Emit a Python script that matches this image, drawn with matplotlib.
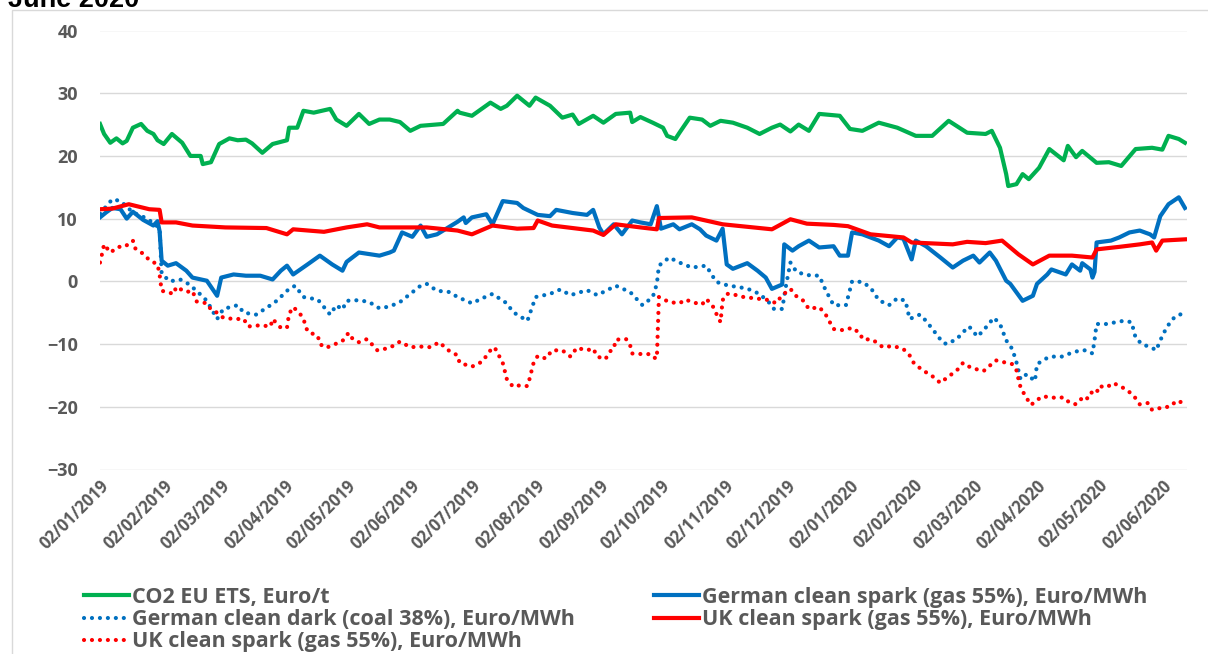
import pandas as pd
import matplotlib.pyplot as plt
import matplotlib.dates as mdates
from matplotlib.patches import Rectangle

# CO2 EU ETS, Euro/t
co2_dates = ["2019-01-02", "2019-01-04", "2019-01-07", "2019-01-10", "2019-01-13", "2019-01-15",
             "2019-01-18", "2019-01-22", "2019-01-25", "2019-01-28", "2019-01-30", "2019-02-02",
             "2019-02-06", "2019-02-11", "2019-02-15", "2019-02-20", "2019-02-21", "2019-02-25",
             "2019-03-01", "2019-03-06", "2019-03-10", "2019-03-14", "2019-03-17", "2019-03-22",
             "2019-03-27", "2019-04-03", "2019-04-04", "2019-04-08", "2019-04-11", "2019-04-16",
             "2019-04-24", "2019-04-27", "2019-05-02", "2019-05-08", "2019-05-13", "2019-05-18",
             "2019-05-23", "2019-05-28", "2019-06-02", "2019-06-07", "2019-06-18", "2019-06-25",
             "2019-06-26", "2019-07-02", "2019-07-11", "2019-07-16", "2019-07-19", "2019-07-24",
             "2019-07-30", "2019-08-02", "2019-08-09", "2019-08-15", "2019-08-20", "2019-08-23",
             "2019-08-30", "2019-09-04", "2019-09-10", "2019-09-17", "2019-09-18", "2019-09-22",
             "2019-09-28", "2019-10-03", "2019-10-05", "2019-10-09", "2019-10-11", "2019-10-16",
             "2019-10-22", "2019-10-26", "2019-10-31", "2019-11-06", "2019-11-13", "2019-11-19",
             "2019-11-25", "2019-11-29", "2019-12-04", "2019-12-08", "2019-12-13", "2019-12-18",
             "2019-12-28", "2020-01-02", "2020-01-08", "2020-01-16", "2020-01-25", "2020-02-03",
             "2020-02-11", "2020-02-19", "2020-02-28", "2020-03-08", "2020-03-11", "2020-03-15",
             "2020-03-18", "2020-03-19", "2020-03-23", "2020-03-26", "2020-03-29", "2020-04-03",
             "2020-04-08", "2020-04-15", "2020-04-17", "2020-04-21", "2020-04-24", "2020-05-01",
             "2020-05-07", "2020-05-13", "2020-05-20", "2020-05-28", "2020-06-02", "2020-06-05",
             "2020-06-10", "2020-06-13"]
co2_vals = [25.1, 23.5, 22.1, 22.8, 22.0, 22.4,
            24.5, 25.1, 24.0, 23.5, 22.5, 21.9,
            23.5, 22.1, 20.0, 20.0, 18.7, 19.0,
            21.9, 22.8, 22.5, 22.6, 22.0, 20.5,
            21.9, 22.5, 24.5, 24.5, 27.2, 26.9,
            27.5, 25.8, 24.8, 26.7, 25.1, 25.8,
            25.8, 25.4, 24.0, 24.8, 25.1, 27.2,
            26.9, 26.4, 28.5, 27.5, 28.0, 29.6,
            28.0, 29.3, 28.0, 26.1, 26.6, 25.1,
            26.4, 25.3, 26.7, 26.9, 25.4, 26.2,
            25.3, 24.5, 23.2, 22.7, 23.7, 26.1,
            25.8, 24.8, 25.6, 25.3, 24.5, 23.5,
            24.5, 25.0, 23.9, 25.0, 24.0, 26.7,
            26.4, 24.3, 24.0, 25.3, 24.5, 23.2,
            23.2, 25.6, 23.7, 23.5, 24.0, 21.3,
            17.1, 15.2, 15.5, 17.1, 16.3, 18.1,
            21.1, 19.3, 21.6, 19.8, 20.8, 18.9,
            19.0, 18.4, 21.1, 21.3, 21.0, 23.2,
            22.7, 22.1]

# German clean spark (gas 55%), Euro/MWh
de_spark_dates = ["2019-01-02", "2019-01-05", "2019-01-08", "2019-01-12", "2019-01-15", "2019-01-18",
                  "2019-01-23", "2019-01-28", "2019-01-30", "2019-01-31", "2019-02-01", "2019-02-04",
                  "2019-02-08", "2019-02-13", "2019-02-16", "2019-02-23", "2019-02-28", "2019-03-02",
                  "2019-03-08", "2019-03-14", "2019-03-21", "2019-03-27", "2019-03-31", "2019-04-03",
                  "2019-04-06", "2019-04-13", "2019-04-19", "2019-04-25", "2019-04-30", "2019-05-02",
                  "2019-05-08", "2019-05-18", "2019-05-23", "2019-05-25", "2019-05-29", "2019-06-03",
                  "2019-06-07", "2019-06-10", "2019-06-15", "2019-06-20", "2019-06-25", "2019-06-28",
                  "2019-06-29", "2019-07-02", "2019-07-09", "2019-07-12", "2019-07-17", "2019-07-24",
                  "2019-07-27", "2019-08-03", "2019-08-09", "2019-08-12", "2019-08-20", "2019-08-27",
                  "2019-08-30", "2019-09-02", "2019-09-04", "2019-09-09", "2019-09-13", "2019-09-18",
                  "2019-09-22", "2019-09-27", "2019-09-30", "2019-10-02", "2019-10-08", "2019-10-11",
                  "2019-10-17", "2019-10-21", "2019-10-24", "2019-10-29", "2019-11-01", "2019-11-03",
                  "2019-11-06", "2019-11-13", "2019-11-18", "2019-11-22", "2019-11-25", "2019-11-30",
                  "2019-12-01", "2019-12-05", "2019-12-08", "2019-12-13", "2019-12-18", "2019-12-25",
                  "2019-12-28", "2020-01-01", "2020-01-03", "2020-01-08", "2020-01-16", "2020-01-21",
                  "2020-01-25", "2020-01-28", "2020-02-01", "2020-02-03", "2020-02-08", "2020-02-15",
                  "2020-02-21", "2020-02-26", "2020-03-02", "2020-03-05", "2020-03-10", "2020-03-13",
                  "2020-03-18", "2020-03-20", "2020-03-26", "2020-03-31", "2020-04-02", "2020-04-07",
                  "2020-04-09", "2020-04-16", "2020-04-19", "2020-04-23", "2020-04-24", "2020-04-28",
                  "2020-04-29", "2020-04-30", "2020-05-01", "2020-05-08", "2020-05-12", "2020-05-17",
                  "2020-05-22", "2020-05-27", "2020-05-29", "2020-06-01", "2020-06-05", "2020-06-10",
                  "2020-06-13"]
de_spark_vals = [10.2, 11.0, 11.7, 11.5, 10.0, 11.1,
                 9.8, 8.9, 9.6, 8.0, 3.3, 2.5,
                 2.9, 1.7, 0.6, 0.1, -2.3, 0.6,
                 1.1, 0.9, 0.9, 0.3, 1.7, 2.5,
                 1.1, 2.7, 4.1, 2.7, 1.7, 3.1,
                 4.6, 4.1, 4.6, 4.9, 7.8, 7.1,
                 8.9, 7.1, 7.5, 8.5, 9.5, 10.2,
                 9.3, 10.2, 10.7, 9.1, 12.8, 12.5,
                 11.7, 10.6, 10.4, 11.4, 10.9, 10.6,
                 11.4, 8.6, 7.5, 9.1, 7.5, 9.7,
                 9.4, 9.1, 12.0, 8.4, 9.1, 8.3,
                 9.1, 8.3, 7.3, 6.5, 8.4, 2.7,
                 2.0, 2.9, 1.7, 0.6, -1.2, -0.5,
                 5.9, 4.9, 5.6, 6.5, 5.4, 5.6,
                 4.1, 4.1, 7.8, 7.5, 6.5, 5.6,
                 7.0, 6.8, 3.5, 6.5, 5.6, 3.8,
                 2.2, 3.3, 4.1, 3.0, 4.6, 3.3,
                 0.1, -0.4, -3.1, -2.3, -0.4, 1.1,
                 1.9, 1.1, 2.7, 1.7, 2.9, 1.9,
                 0.6, 1.5, 6.2, 6.5, 7.0, 7.8,
                 8.1, 7.5, 7.0, 10.4, 12.3, 13.4,
                 11.7]

# German clean dark (coal 38%), Euro/MWh
de_dark_dates = ["2019-01-02", "2019-01-08", "2019-01-12", "2019-01-18", "2019-01-25", "2019-01-31",
                 "2019-02-01", "2019-02-05", "2019-02-10", "2019-02-14", "2019-02-18", "2019-02-23",
                 "2019-02-28", "2019-03-03", "2019-03-10", "2019-03-13", "2019-03-19", "2019-03-26",
                 "2019-03-29", "2019-04-04", "2019-04-07", "2019-04-11", "2019-04-18", "2019-04-24",
                 "2019-04-27", "2019-04-30", "2019-05-02", "2019-05-08", "2019-05-13", "2019-05-18",
                 "2019-05-23", "2019-05-28", "2019-06-02", "2019-06-07", "2019-06-10", "2019-06-15",
                 "2019-06-21", "2019-06-25", "2019-07-02", "2019-07-07", "2019-07-12", "2019-07-19",
                 "2019-07-22", "2019-07-29", "2019-08-02", "2019-08-09", "2019-08-14", "2019-08-19",
                 "2019-08-27", "2019-09-01", "2019-09-10", "2019-09-17", "2019-09-23", "2019-09-28",
                 "2019-09-30", "2019-10-01", "2019-10-06", "2019-10-11", "2019-10-17", "2019-10-24",
                 "2019-10-27", "2019-10-29", "2019-11-04", "2019-11-09", "2019-11-14", "2019-11-19",
                 "2019-11-24", "2019-11-26", "2019-11-30", "2019-12-02", "2019-12-04", "2019-12-07",
                 "2019-12-12", "2019-12-18", "2019-12-21", "2019-12-25", "2019-12-31", "2020-01-02",
                 "2020-01-03", "2020-01-08", "2020-01-12", "2020-01-16", "2020-01-21", "2020-01-25",
                 "2020-01-29", "2020-01-31", "2020-02-05", "2020-02-08", "2020-02-13", "2020-02-16",
                 "2020-02-18", "2020-02-23", "2020-02-26", "2020-02-29", "2020-03-04", "2020-03-07",
                 "2020-03-12", "2020-03-15", "2020-03-18", "2020-03-21", "2020-03-23", "2020-03-25",
                 "2020-03-28", "2020-04-01", "2020-04-02", "2020-04-07", "2020-04-09", "2020-04-14",
                 "2020-04-18", "2020-04-23", "2020-04-26", "2020-04-29", "2020-04-30", "2020-05-01",
                 "2020-05-06", "2020-05-09", "2020-05-14", "2020-05-18", "2020-05-20", "2020-05-23",
                 "2020-05-28", "2020-05-30", "2020-06-01", "2020-06-04", "2020-06-07", "2020-06-10",
                 "2020-06-13"]
de_dark_vals = [10.8, 13.1, 12.8, 11.0, 10.0, 8.5,
                1.2, 0.0, 0.3, -0.4, -1.5, -3.1,
                -6.0, -4.4, -3.8, -5.0, -5.3, -3.8,
                -3.1, -1.2, -0.7, -2.5, -2.9, -5.3,
                -3.8, -4.5, -3.1, -3.0, -3.3, -4.3,
                -4.0, -3.3, -2.0, -0.7, -0.4, -1.5,
                -1.7, -2.5, -3.5, -2.7, -2.0, -3.5,
                -4.9, -6.3, -2.5, -2.0, -1.3, -2.2,
                -1.4, -2.2, -0.7, -1.7, -3.8, -2.5,
                -0.4, 2.5, 3.8, 3.0, 2.2, 2.5,
                0.9, -0.1, -0.7, -0.9, -1.3, -2.0,
                -3.5, -4.4, -4.4, -0.4, 3.0, 1.5,
                1.0, 0.9, -1.3, -3.8, -3.8, -1.3,
                0.0, -0.1, -1.0, -3.0, -3.8, -2.7,
                -3.1, -6.0, -5.3, -6.3, -8.4, -9.7,
                -10.0, -9.2, -8.1, -7.2, -8.8, -7.8,
                -5.8, -6.8, -9.4, -10.8, -12.9, -15.6,
                -14.8, -15.9, -13.2, -12.2, -12.0, -12.0,
                -11.5, -11.0, -11.0, -11.5, -9.4, -6.8,
                -6.8, -6.6, -6.3, -6.5, -9.0, -10.0,
                -10.6, -11.0, -9.4, -7.4, -6.0, -5.3,
                -5.2]

# UK clean spark (gas 55%), Euro/MWh - solid
uk_spark_dates = ["2019-01-02", "2019-01-08", "2019-01-16", "2019-01-21", "2019-01-26", "2019-01-31",
                  "2019-02-01", "2019-02-08", "2019-02-16", "2019-03-04", "2019-03-24", "2019-04-03",
                  "2019-04-06", "2019-04-21", "2019-05-02", "2019-05-12", "2019-05-18", "2019-06-10",
                  "2019-06-25", "2019-07-02", "2019-07-12", "2019-07-24", "2019-08-01", "2019-08-03",
                  "2019-08-10", "2019-08-30", "2019-09-04", "2019-09-10", "2019-09-22", "2019-09-30",
                  "2019-10-01", "2019-10-17", "2019-11-01", "2019-11-25", "2019-12-04", "2019-12-12",
                  "2019-12-25", "2020-01-01", "2020-01-12", "2020-01-28", "2020-02-01", "2020-02-21",
                  "2020-02-28", "2020-03-08", "2020-03-16", "2020-03-24", "2020-03-31", "2020-04-08",
                  "2020-04-19", "2020-04-29", "2020-05-01", "2020-05-12", "2020-05-22", "2020-05-28",
                  "2020-05-30", "2020-06-02", "2020-06-13"]
uk_spark_vals = [11.5, 11.6, 12.3, 11.9, 11.5, 11.4,
                 9.4, 9.4, 8.9, 8.6, 8.5, 7.5,
                 8.3, 7.9, 8.6, 9.1, 8.6, 8.6,
                 8.1, 7.5, 8.9, 8.4, 8.5, 9.7,
                 8.9, 8.1, 7.4, 9.1, 8.6, 8.3,
                 10.1, 10.2, 9.1, 8.3, 9.9, 9.2,
                 9.0, 8.8, 7.5, 7.0, 6.2, 5.9,
                 6.3, 6.1, 6.5, 4.3, 2.7, 4.1,
                 4.1, 3.8, 5.1, 5.5, 5.9, 6.2,
                 4.9, 6.5, 6.7]

# UK clean spark (gas 55%), Euro/MWh - dotted
uk_dot_dates = ["2019-01-02", "2019-01-03", "2019-01-04", "2019-01-07", "2019-01-11", "2019-01-14",
                "2019-01-18", "2019-01-19", "2019-01-23", "2019-01-26", "2019-01-30", "2019-01-31",
                "2019-02-01", "2019-02-07", "2019-02-08", "2019-02-13", "2019-02-16", "2019-02-18",
                "2019-02-23", "2019-02-25", "2019-02-28", "2019-03-03", "2019-03-08", "2019-03-13",
                "2019-03-15", "2019-03-21", "2019-03-26", "2019-03-27", "2019-03-31", "2019-04-03",
                "2019-04-04", "2019-04-06", "2019-04-09", "2019-04-11", "2019-04-13", "2019-04-18",
                "2019-04-19", "2019-04-22", "2019-04-25", "2019-04-30", "2019-05-03", "2019-05-05",
                "2019-05-08", "2019-05-12", "2019-05-17", "2019-05-23", "2019-05-28", "2019-06-02",
                "2019-06-07", "2019-06-12", "2019-06-16", "2019-06-21", "2019-06-25", "2019-06-26",
                "2019-07-02", "2019-07-07", "2019-07-11", "2019-07-13", "2019-07-17", "2019-07-19",
                "2019-07-22", "2019-07-25", "2019-07-29", "2019-07-30", "2019-08-01", "2019-08-03",
                "2019-08-07", "2019-08-10", "2019-08-15", "2019-08-19", "2019-08-22", "2019-08-27",
                "2019-08-30", "2019-09-01", "2019-09-05", "2019-09-07", "2019-09-09", "2019-09-10",
                "2019-09-15", "2019-09-17", "2019-09-18", "2019-09-23", "2019-09-27", "2019-09-29",
                "2019-09-30", "2019-10-01", "2019-10-06", "2019-10-11", "2019-10-14", "2019-10-17",
                "2019-10-22", "2019-10-24", "2019-10-27", "2019-10-29", "2019-10-31", "2019-11-01",
                "2019-11-03", "2019-11-06", "2019-11-09", "2019-11-14", "2019-11-19", "2019-11-24",
                "2019-11-27", "2019-11-30", "2019-12-04", "2019-12-07", "2019-12-10", "2019-12-13",
                "2019-12-18", "2019-12-21", "2019-12-25", "2019-12-30", "2020-01-03", "2020-01-07",
                "2020-01-08", "2020-01-13", "2020-01-18", "2020-01-23", "2020-01-28", "2020-01-31",
                "2020-02-02", "2020-02-06", "2020-02-11", "2020-02-15", "2020-02-18", "2020-02-23",
                "2020-02-26", "2020-03-01", "2020-03-07", "2020-03-13", "2020-03-17", "2020-03-21",
                "2020-03-23", "2020-03-24", "2020-03-25", "2020-03-27", "2020-03-30", "2020-04-02",
                "2020-04-04", "2020-04-08", "2020-04-11", "2020-04-15", "2020-04-18", "2020-04-21",
                "2020-04-24", "2020-04-26", "2020-04-28", "2020-05-01", "2020-05-02", "2020-05-06",
                "2020-05-09", "2020-05-13", "2020-05-16", "2020-05-19", "2020-05-22", "2020-05-26",
                "2020-05-28", "2020-06-01", "2020-06-04", "2020-06-07", "2020-06-10", "2020-06-13"]
uk_dot_vals = [3.0, 4.4, 5.9, 4.6, 5.5, 5.5,
               6.5, 5.3, 4.4, 3.4, 2.7, 1.1,
               -1.5, -2.0, -0.9, -1.7, -1.5, -3.2,
               -3.5, -4.5, -5.0, -5.8, -6.0, -6.0,
               -7.2, -7.0, -7.2, -6.0, -7.4, -7.4,
               -5.2, -4.1, -5.0, -6.0, -8.0, -8.7,
               -10.0, -10.6, -10.2, -9.5, -8.2, -9.2,
               -9.7, -9.2, -11.0, -10.6, -9.6, -10.5,
               -10.4, -10.5, -9.7, -11.1, -11.8, -13.0,
               -13.6, -12.8, -11.0, -10.5, -13.0, -15.6,
               -16.8, -16.6, -16.7, -15.6, -13.0, -11.9,
               -12.3, -11.0, -11.0, -12.0, -10.6, -11.0,
               -10.7, -12.0, -12.4, -11.2, -10.8, -9.3,
               -9.2, -10.2, -11.5, -11.6, -11.6, -12.2,
               -12.3, -2.5, -3.3, -3.5, -2.9, -3.3,
               -3.7, -2.8, -3.8, -5.2, -6.5, -3.0,
               -2.0, -2.0, -2.4, -2.6, -2.8, -3.0,
               -3.5, -2.2, -1.2, -2.4, -3.0, -4.4,
               -4.1, -5.2, -7.6, -7.8, -7.4, -8.3,
               -9.2, -9.3, -10.5, -10.3, -10.8, -11.8,
               -13.0, -14.1, -15.1, -16.2, -15.4, -14.2,
               -13.0, -13.8, -14.3, -12.6, -12.9, -13.2,
               -14.2, -15.6, -16.9, -18.1, -19.7, -19.0,
               -18.4, -18.4, -18.6, -18.5, -19.4, -19.6,
               -18.6, -18.9, -17.7, -17.9, -16.7, -16.9,
               -16.2, -16.8, -17.4, -18.2, -19.6, -19.4,
               -20.5, -20.2, -20.1, -19.4, -19.6, -18.3]

# ticks on the 2nd of each month
tick_dates = pd.date_range("2019-01-01", "2020-06-01", freq="MS") + pd.Timedelta(days=1)

grey = "#595959"
font = ["Open Sans", "DejaVu Sans"]
plt.rcParams["font.family"] = font

fig = plt.figure(figsize=(12.08, 6.54), dpi=100)
ax = fig.add_axes([100 / 1208, 1 - 469.5 / 654, 1087 / 1208, 439 / 654])

# chart border and the title, cut at the top as in the source
fig.patches.append(Rectangle((12 / 1208, -0.05), 1.2, 1.05 - 10 / 654, transform=fig.transFigure,
                             fill=False, edgecolor="#d9d9d9", linewidth=1))
fig.text(8 / 1208, 1 - 7 / 654, "June 2020", fontsize=19.5, fontweight="bold",
         family="Liberation Sans", va="baseline", ha="left")

dot = (0, (0.01, 1.9))
l_co2, = ax.plot(pd.to_datetime(co2_dates), co2_vals, color="#00B050", lw=3,
                 label="CO2 EU ETS, Euro/t")
l_des, = ax.plot(pd.to_datetime(de_spark_dates), de_spark_vals, color="#0070C0", lw=3,
                 label="German clean spark (gas 55%), Euro/MWh")
l_ded, = ax.plot(pd.to_datetime(de_dark_dates), de_dark_vals, color="#0070C0", lw=3,
                 linestyle=dot, dash_capstyle="round",
                 label="German clean dark (coal 38%), Euro/MWh")
l_uks, = ax.plot(pd.to_datetime(uk_spark_dates), uk_spark_vals, color="#FF0000", lw=3,
                 label="UK clean spark (gas 55%), Euro/MWh")
l_ukd, = ax.plot(pd.to_datetime(uk_dot_dates), uk_dot_vals, color="#FF0000", lw=3,
                 linestyle=dot, dash_capstyle="round",
                 label="UK clean spark (gas 55%), Euro/MWh")

ax.set_ylim(-30, 40)
ax.set_yticks(range(-30, 41, 10))
ax.set_xlim(pd.Timestamp("2019-01-02"), pd.Timestamp("2020-06-14"))
ax.set_xticks(tick_dates)
ax.xaxis.set_major_formatter(mdates.DateFormatter("%d/%m/%Y"))
ax.grid(axis="y", color="#d9d9d9", lw=1)
ax.set_axisbelow(True)
for s in ax.spines.values():
    s.set_visible(False)
ax.tick_params(axis="both", length=0, colors=grey)
ax.tick_params(axis="y", pad=16, labelsize=13)
ax.tick_params(axis="x", pad=5, labelsize=12)
for lab in ax.get_yticklabels():
    lab.set_fontweight("bold")
for lab in ax.get_xticklabels():
    lab.set_fontweight("bold")
    lab.set_rotation(45)
    lab.set_ha("right")
    lab.set_rotation_mode("anchor")

# legend in two columns
leg_kw = dict(frameon=False, loc="upper left", handlelength=2.1, handletextpad=0.12,
              labelspacing=0.05, borderpad=0, borderaxespad=0, fontsize=15.5)
legs = [fig.legend(handles=[l_co2, l_ded, l_ukd], bbox_to_anchor=(84 / 1208, 1 - 587 / 654), **leg_kw),
        fig.legend(handles=[l_des, l_uks], bbox_to_anchor=(654 / 1208, 1 - 587 / 654), **leg_kw)]
for leg in legs:
    for t in leg.get_texts():
        t.set_fontweight("bold")
        t.set_color(grey)

fig.savefig("out.png", dpi=100)
